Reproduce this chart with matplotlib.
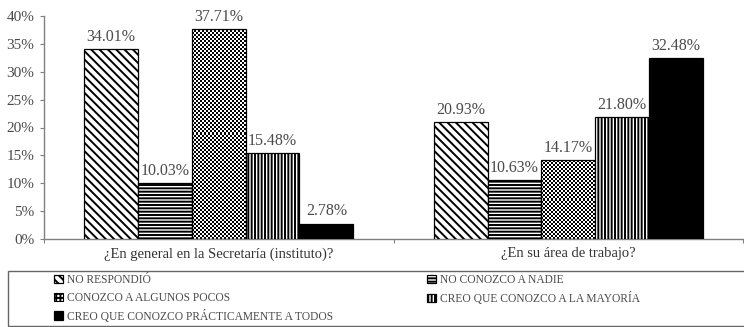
import numpy as np
import matplotlib
matplotlib.use('Agg')
import matplotlib.pyplot as plt
import matplotlib.ticker as ticker
from matplotlib.patches import Patch, Rectangle

categories = ['¿En general en la Secretaría (instituto)?', '¿En su área de trabajo?']
series     = ['NO RESPONDIÓ', 'NO CONOZCO A NADIE', 'CONOZCO A ALGUNOS POCOS',
              'CREO QUE CONOZCO A LA MAYORÍA', 'CREO QUE CONOZCO PRÁCTICAMENTE A TODOS']
values     = [[34.01, 20.93],
              [10.03, 10.63],
              [37.71, 14.17],
              [15.48, 21.80],
              [ 2.78, 32.48]]
hatches    = ['\\' * 4, '-' * 5, None, '|' * 5, None]
faces      = ['white', 'white', 'none', 'white', 'black']

plt.rcParams['font.family']    = ['Liberation Serif', 'DejaVu Serif']
plt.rcParams['hatch.linewidth'] = 1.4
plt.rcParams['hatch.color']     = 'black'

txt_color  = '#4a4a4a'
axis_color = '#808080'

fig = plt.figure(figsize=(7.44, 3.27), dpi=100)
ax  = fig.add_axes([44/744, 1-239/327, (743-44)/744, (239-16)/327])
ax.set_xlim(-0.5, 1.5)
ax.set_ylim(0, 40)

nser  = len(series)
width = 0.154
x     = np.arange(len(categories))

containers = []
for i in range(nser):
    offs = (i - (nser-1)/2) * width
    bc = ax.bar(x + offs, values[i], width, color=faces[i], edgecolor='black',
                linewidth=0.9, hatch=hatches[i], zorder=3)
    containers.append(bc)
    for rect, v in zip(bc, values[i]):
        ax.annotate('%.2f%%' % v, (rect.get_x() + rect.get_width()/2, v),
                    xytext=(0, 3), textcoords='offset points', ha='center', va='bottom',
                    fontsize=11.5, color=txt_color)

# checkerboard fill for the third series, clipped to each bar
for rect in containers[2]:
    x0, x1 = rect.get_x(), rect.get_x() + rect.get_width()
    h  = rect.get_height()
    p0 = ax.transData.transform((x0, 0))
    p1 = ax.transData.transform((x1, h))
    nx = max(int(round((p1[0]-p0[0]) / 2.0)), 1)
    ny = max(int(round((p1[1]-p0[1]) / 2.0)), 1)
    board = np.indices((ny, nx)).sum(axis=0) % 2
    im = ax.imshow(board, cmap='gray', extent=(x0, x1, 0, h), aspect='auto',
                   interpolation='nearest', origin='lower', zorder=2)
    im.set_clip_path(rect)
ax.set_xlim(-0.5, 1.5)
ax.set_ylim(0, 40)

for s in ['top', 'right']:
    ax.spines[s].set_visible(False)
for s in ['left', 'bottom']:
    ax.spines[s].set_color(axis_color)
    ax.spines[s].set_linewidth(1.0)

ax.set_yticks(np.arange(0, 41, 5))
ax.yaxis.set_major_formatter(ticker.FuncFormatter(lambda v, p: '%d%%' % v))
ax.tick_params(axis='y', direction='out', length=3, width=0.8, color=axis_color,
               labelsize=11, labelcolor=txt_color, pad=4)

ax.set_xticks(x)
ax.set_xticklabels(categories)
ax.set_xticks([-0.5, 0.5, 1.5], minor=True)
ax.tick_params(axis='x', which='major', length=0, labelsize=10.5, labelcolor='#333333', pad=6)
ax.tick_params(axis='x', which='minor', direction='out', length=3, width=0.8, color=axis_color)

# legend frame across the bottom
fig.patches.append(Rectangle((8/744, 1-326/327), (745-8)/744, (326-271)/327,
                             transform=fig.transFigure, facecolor='none',
                             edgecolor='#666666', linewidth=1.0))

handles = []
for i in range(nser):
    if i == 2:
        handles.append(Patch(facecolor='white', edgecolor='black', hatch='++++', linewidth=0.8))
    else:
        handles.append(containers[i])

leg_kw = dict(frameon=False, fontsize=8.3, handlelength=0.75, handleheight=0.75,
              handletextpad=0.4, labelspacing=0.5, borderpad=0, borderaxespad=0,
              labelcolor=txt_color, loc='upper left')
leg1 = fig.legend([handles[0], handles[2], handles[4]], [series[0], series[2], series[4]],
                  bbox_to_anchor=(54/744, 1-274/327), **leg_kw)
leg2 = fig.legend([handles[1], handles[3]], [series[1], series[3]],
                  bbox_to_anchor=(427/744, 1-274/327), **leg_kw)

fig.savefig('out.png', dpi=100)
